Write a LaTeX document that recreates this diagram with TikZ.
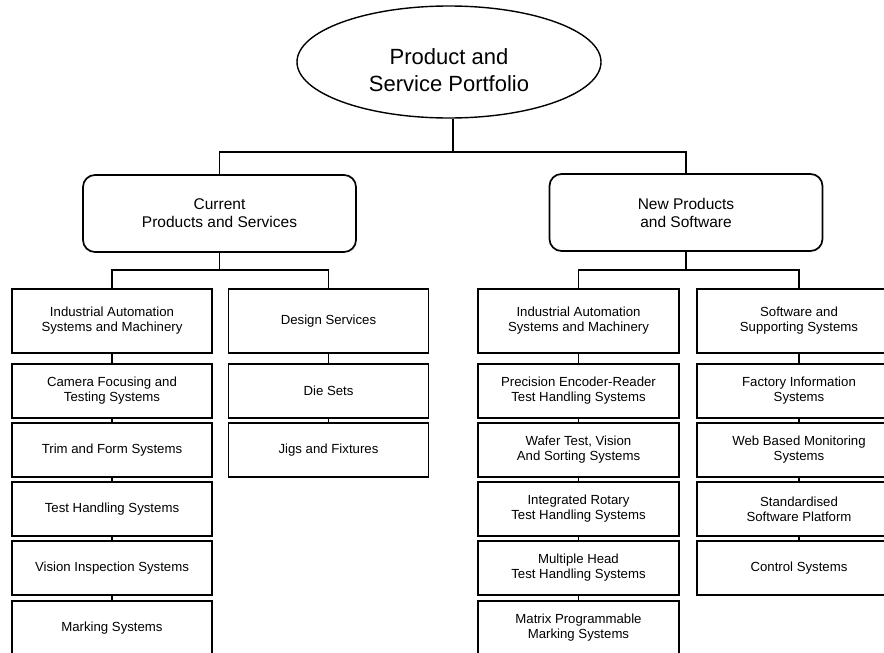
\documentclass[tikz,border=0pt]{standalone}
\usepackage{fontspec}
\setmainfont{Liberation Sans}
\usetikzlibrary{shapes.geometric}
\begin{document}
\begin{tikzpicture}[x=1pt,y=-1pt,
  line width=1.7pt,
  topell/.style={ellipse,draw,line width=1.4pt,minimum width=304pt,minimum height=112pt,inner sep=0pt},
  headbox/.style={draw,rounded corners=12pt,minimum width=273pt,minimum height=77pt,align=center,
     font=\fontsize{15.5pt}{18pt}\selectfont},
  itembox/.style={draw,rectangle,minimum width=200pt,minimum height=54pt,align=center,inner sep=2pt,
     font=\fontsize{13.2pt}{15pt}\selectfont},
  firstbox/.style={itembox,minimum height=64pt}
]
\useasboundingbox (0,0) rectangle (884,653);
\clip (0,0) rectangle (884,653);

% top ellipse
\node[topell,label={[yshift=-8pt,align=center,font=\fontsize{22pt}{26.5pt}\selectfont]center:Product and\\Service Portfolio}] (top) at (449,62) {};

% heads
\node[headbox] (cur) at (219.5,213.5) {Current\\Products and Services};
\node[headbox] (new) at (686,212.5) {New Products\\and Software};

% column 1
\node[firstbox] (a1) at (112,321) {Industrial Automation\\Systems and Machinery};
\node[itembox] (a2) at (112,391) {Camera Focusing and\\Testing Systems};
\node[itembox] (a3) at (112,450) {Trim and Form Systems};
\node[itembox] (a4) at (112,509) {Test Handling Systems};
\node[itembox] (a5) at (112,568) {Vision Inspection Systems};
\node[itembox] (a6) at (112,628) {Marking Systems};

% column 2
\node[firstbox] (b1) at (328.5,321) {Design Services};
\node[itembox] (b2) at (328.5,391) {Die Sets};
\node[itembox] (b3) at (328.5,450) {Jigs and Fixtures};

% column 3
\node[firstbox,minimum width=201pt] (c1) at (578.5,321) {Industrial Automation\\Systems and Machinery};
\node[itembox,minimum width=201pt] (c2) at (578.5,391) {Precision Encoder-Reader\\Test Handling Systems};
\node[itembox,minimum width=201pt] (c3) at (578.5,450) {Wafer Test, Vision\\And Sorting Systems};
\node[itembox,minimum width=201pt] (c4) at (578.5,509) {Integrated Rotary\\Test Handling Systems};
\node[itembox,minimum width=201pt] (c5) at (578.5,568) {Multiple Head\\Test Handling Systems};
\node[itembox,minimum width=201pt] (c6) at (578.5,628) {Matrix Programmable\\Marking Systems};

% column 4
\node[firstbox,minimum width=204pt] (d1) at (799,321) {Software and\\Supporting Systems};
\node[itembox,minimum width=204pt] (d2) at (799,391) {Factory Information\\Systems};
\node[itembox,minimum width=204pt] (d3) at (799,450) {Web Based Monitoring\\Systems};
\node[itembox,minimum width=204pt] (d4) at (799,509) {Standardised\\Software Platform};
\node[itembox,minimum width=204pt] (d5) at (799,568) {Control Systems};

% top connectors
\coordinate (tj) at (453,152);
\draw (top.south -| tj) -- (tj);
\draw (cur.north) |- (tj) -| (new.north);

% second level connectors
\coordinate (lj) at (219.5,270);
\coordinate (rj) at (686,270);
\draw (cur.south) -- (lj);
\draw (a1.north) |- (lj) -| (b1.north);
\draw (new.south) -- (rj);
\draw (c1.north) |- (rj);
\draw (rj) -| (d1.north);

% column chains
\draw (a1) -- (a2); \draw (a2) -- (a3); \draw (a3) -- (a4); \draw (a4) -- (a5); \draw (a5) -- (a6);
\draw (b1) -- (b2); \draw (b2) -- (b3);
\draw (c1) -- (c2); \draw (c2) -- (c3); \draw (c3) -- (c4); \draw (c4) -- (c5); \draw (c5) -- (c6);
\draw (d1) -- (d2); \draw (d2) -- (d3); \draw (d3) -- (d4); \draw (d4) -- (d5);
\end{tikzpicture}
\end{document}
